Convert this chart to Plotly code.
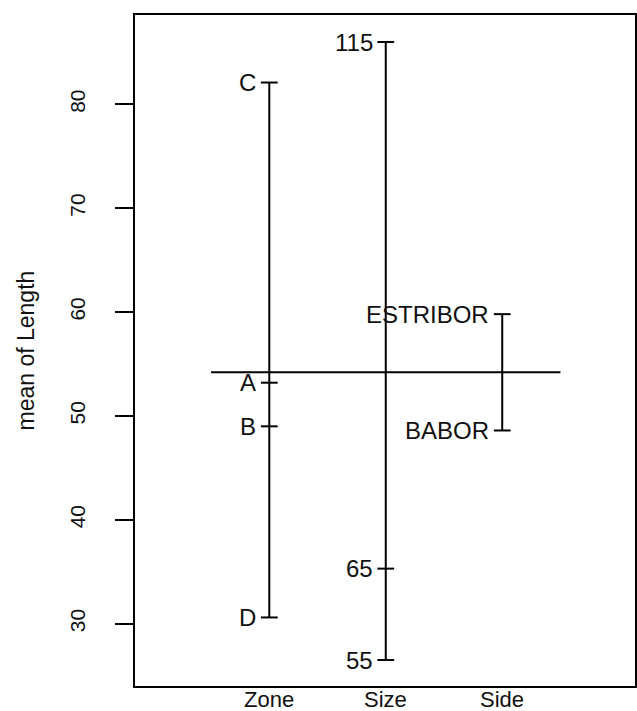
import plotly.graph_objects as go

factors = ["Zone", "Size", "Side"]
zone_levels = ["A", "B", "C", "D"]
zone_means = [53.2, 49.0, 82.1, 30.6]
size_levels = ["55", "65", "115"]
size_means = [26.5, 35.3, 86.0]
side_levels = ["BABOR", "ESTRIBOR"]
side_means = [48.6, 59.8]
grand_mean = 54.2
y_ticks = [30, 40, 50, 60, 70, 80]

groups = [(zone_levels, zone_means), (size_levels, size_means), (side_levels, side_means)]
FONT = "Liberation Sans, Arial, sans-serif"

fig = go.Figure()

# grand mean line
fig.add_trace(go.Scatter(x=[0.5, len(factors) + 0.5], y=[grand_mean, grand_mean], mode="lines",
                         line=dict(color="black", width=2), hoverinfo="skip"))

annotations = []
for i, (levels, means) in enumerate(groups, start=1):
    fig.add_trace(go.Scatter(x=[i, i], y=[min(means), max(means)], mode="lines",
                             line=dict(color="black", width=2), hoverinfo="skip"))
    fig.add_trace(go.Scatter(x=[i] * len(means), y=means, mode="markers",
                             marker=dict(symbol="line-ew", size=12,
                                         line=dict(color="black", width=2)),
                             hoverinfo="skip"))
    for lab, m in zip(levels, means):
        annotations.append(dict(x=i, y=m, xref="x", yref="y", text=lab, showarrow=False,
                                xanchor="right", yanchor="middle", xshift=-11,
                                font=dict(family=FONT, size=24, color="#111")))

# factor names below the plot
for i, name in enumerate(factors, start=1):
    annotations.append(dict(x=i, y=0, xref="x", yref="paper", text=name, showarrow=False,
                            xanchor="center", yanchor="middle", yshift=-13,
                            font=dict(family=FONT, size=22, color="#111")))

annotations.append(dict(x=0, y=0.5, xref="paper", yref="paper", text="mean of Length",
                        showarrow=False, textangle=-90, xshift=-110, xanchor="center",
                        yanchor="middle", font=dict(family=FONT, size=23, color="#111")))

fig.update_layout(
    width=637, height=711, margin=dict(l=135, r=2, t=15, b=25),
    paper_bgcolor="white", plot_bgcolor="white", showlegend=False,
    annotations=annotations,
    font=dict(family=FONT, color="#111"),
)
fig.update_xaxes(range=[-0.153, 4.14], showticklabels=False,
                 showline=True, mirror=True, linecolor="black", linewidth=2,
                 ticks="", showgrid=False, zeroline=False, automargin=False)
fig.update_yaxes(range=[24.0, 88.6], tickvals=y_ticks, tickangle=-90,
                 showline=True, mirror=True, linecolor="black", linewidth=2,
                 ticks="outside", ticklen=18, tickwidth=2, tickcolor="black",
                 ticklabelstandoff=22, showgrid=False, zeroline=False, automargin=False,
                 tickfont=dict(family=FONT, size=21, color="#111"))

fig.write_html("out.html")
